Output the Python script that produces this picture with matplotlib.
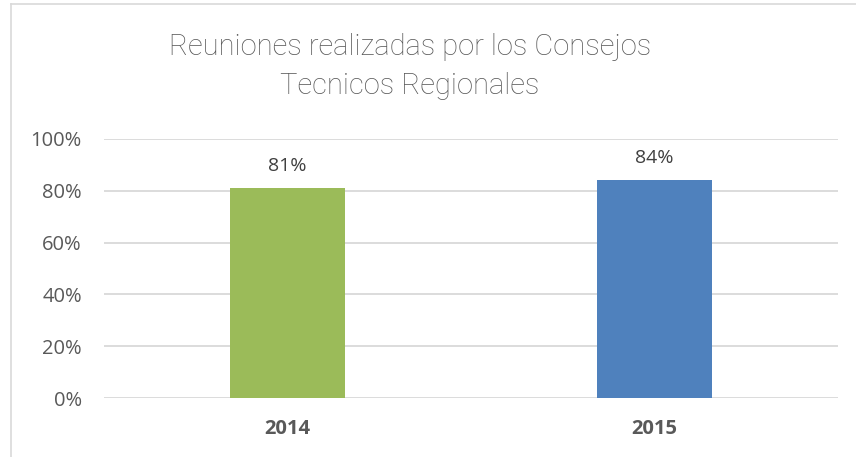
import matplotlib.pyplot as plt
from matplotlib.ticker import PercentFormatter
from matplotlib.lines import Line2D

years = ["2014", "2015"]
values = [0.81, 0.84]
colors = ["#9BBB59", "#4F81BD"]
title_lines = ["Reuniones realizadas por los Consejos", "Tecnicos Regionales"]

fig = plt.figure(figsize=(8.56, 4.57), dpi=100)
ax = fig.add_axes([104 / 856, 1 - 398 / 457, 734 / 856, 259 / 457])

x = range(len(years))
bars = ax.bar(x, values, width=0.316, color=colors, zorder=3)
for b, v in zip(bars, values):
    ax.annotate(f"{v:.0%}", (b.get_x() + b.get_width() / 2, v),
                xytext=(0, 12.5), textcoords="offset points",
                ha="center", va="baseline", fontsize=14, color="#404040",
                family="Open Sans")

ax.set_xlim(-0.5, 1.5)
ax.set_ylim(0, 1.0)
ax.set_yticks([0, 0.2, 0.4, 0.6, 0.8, 1.0])
ax.yaxis.set_major_formatter(PercentFormatter(1.0, decimals=0))
ax.set_xticks(list(x))
ax.set_xticklabels(years, fontweight="bold")
ax.tick_params(length=0, labelsize=14.5, labelcolor="#595959")
ax.tick_params(axis="y", pad=16)
ax.tick_params(axis="x", pad=15)
for lab in ax.get_xticklabels() + ax.get_yticklabels():
    lab.set_family("Open Sans")
ax.grid(axis="y", color="#D9D9D9", linewidth=1.3, zorder=0)
for s in ax.spines.values():
    s.set_visible(False)

# title, two centred lines
for line, base in zip(title_lines, [55, 94]):
    fig.text(410 / 856, 1 - base / 457, line, ha="center", va="baseline",
             fontsize=21, color="#595959", family="Roboto", fontweight="light")

# chart border (only left and top edges are in frame)
fig.add_artist(Line2D([11 / 856, 11 / 856], [0, 1 - 4 / 457], color="#D9D9D9", lw=1.2))
fig.add_artist(Line2D([11 / 856, 1], [1 - 4 / 457, 1 - 4 / 457], color="#D9D9D9", lw=1.2))

fig.savefig("out.png", dpi=100)
